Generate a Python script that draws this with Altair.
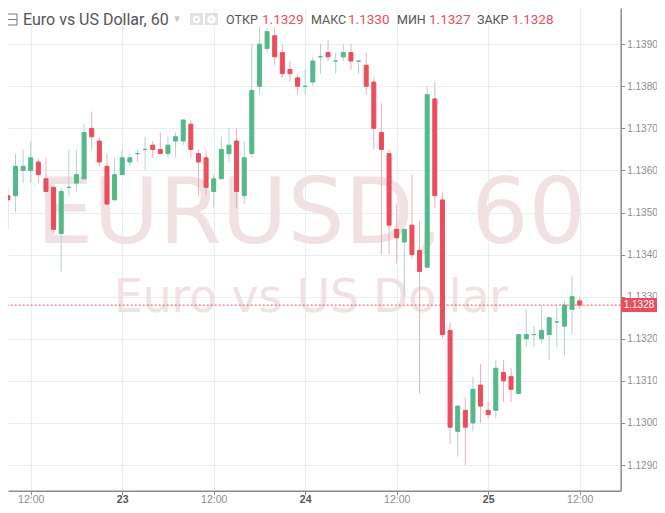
import json
import altair as alt
import pandas as pd

hours = list(range(-3, 73))
opens = [1.1354,1.1354,1.1360,1.1360,1.1362,1.1358,1.1356,1.1345,1.1356,1.1357,1.1358,1.1370,1.1367,1.1361,1.1353,1.1359,
 1.1362,1.1364,1.1365,1.1366,1.1365,1.1364,1.1367,1.1367,1.1371,1.1364,1.1363,1.1355,1.1358,1.1364,1.1367,1.1354,
 1.1364,1.1380,1.1389,1.1392,1.1388,1.1384,1.1382,1.1380,1.1381,1.1387,1.1388,1.1386,1.1387,1.1388,1.1386,1.1385,
 1.1381,1.1369,1.1364,1.1346,1.1343,1.1347,1.1341,1.1337,1.1377,1.1353,1.1322,1.1298,1.1303,1.1300,1.1309,1.1303,
 1.1303,1.1312,1.1311,1.1307,1.1320,1.1321,1.1320,1.1321,1.1324,1.1323,1.1327,1.1329]
highs = [1.1356,1.1364,1.1365,1.1367,1.1363,1.1363,1.1356,1.1356,1.1365,1.1365,1.1371,1.1374,1.1368,1.1364,1.1363,1.1365,
 1.1364,1.1365,1.1368,1.1367,1.1369,1.1368,1.1369,1.1372,1.1372,1.1365,1.1365,1.1359,1.1368,1.1370,1.1370,1.1367,
 1.1390,1.1394,1.1394,1.1394,1.1390,1.1386,1.1383,1.1384,1.1387,1.1390,1.1391,1.1388,1.1390,1.1390,1.1386,1.1388,
 1.1382,1.1376,1.1365,1.1352,1.1346,1.1359,1.1348,1.1380,1.1381,1.1355,1.1324,1.1304,1.1306,1.1311,1.1314,1.1305,
 1.1315,1.1315,1.1313,1.1321,1.1327,1.1323,1.1328,1.1325,1.1328,1.1329,1.1335,1.1330]
lows = [1.1346,1.1350,1.1357,1.1357,1.1357,1.1355,1.1345,1.1336,1.1354,1.1355,1.1358,1.1365,1.1361,1.1352,1.1353,1.1359,
 1.1361,1.1362,1.1360,1.1363,1.1364,1.1363,1.1363,1.1366,1.1363,1.1354,1.1354,1.1351,1.1358,1.1362,1.1351,1.1352,
 1.1363,1.1378,1.1388,1.1385,1.1382,1.1381,1.1378,1.1378,1.1380,1.1383,1.1386,1.1383,1.1386,1.1384,1.1383,1.1378,
 1.1365,1.1340,1.1340,1.1338,1.1330,1.1339,1.1307,1.1337,1.1351,1.1320,1.1295,1.1292,1.1290,1.1298,1.1300,1.1301,
 1.1301,1.1305,1.1305,1.1307,1.1318,1.1318,1.1319,1.1315,1.1318,1.1316,1.1321,1.1327]
closes = [1.1353,1.1361,1.1361,1.1363,1.1359,1.1355,1.1346,1.1355,1.1356,1.1359,1.1369,1.1368,1.1362,1.1352,1.1359,1.1363,
 1.1363,1.1364,1.1365,1.1365,1.1364,1.1366,1.1368,1.1372,1.1365,1.1362,1.1356,1.1358,1.1365,1.1366,1.1355,1.1363,
 1.1379,1.1390,1.1393,1.1387,1.1383,1.1383,1.1380,1.1380,1.1386,1.1387,1.1387,1.1386,1.1388,1.1386,1.1386,1.1380,
 1.1370,1.1365,1.1347,1.1344,1.1346,1.1340,1.1336,1.1378,1.1354,1.1321,1.1299,1.1304,1.1299,1.1308,1.1304,1.1302,
 1.1313,1.1310,1.1308,1.1321,1.1321,1.1321,1.1322,1.1325,1.1324,1.1328,1.1330,1.1328]

price_ticks = [1.1290,1.1300,1.1310,1.1320,1.1330,1.1340,1.1350,1.1360,1.1370,1.1380,1.1390]
time_ticks = [0,12,24,36,48,60,72]
time_labels = ["12:00","23","12:00","24","12:00","25","12:00"]
day_ticks = [12,36,60]
last_price = [1.1328]

GREEN, RED = "#53b987", "#eb4d5c"
WICK_G, WICK_R = "#b4d3d3", "#f0aeb6"
GRID = "#e8eff2"
WATER = "#f1e1e2"
AXIS = "#8c8c8c"
LABEL = "#8e8e8e"
DARK = "#555555"
FONT = "Roboto"

df = pd.DataFrame({"t": hours, "o": opens, "h": highs, "l": lows, "c": closes})

xs = alt.Scale(domain=[-2.98, 77.38], nice=False, zero=False, padding=0)
ys = alt.Scale(domain=[1.12839, 1.13986], nice=False, zero=False, padding=0)
W, H = 612.7, 482.7

labelexpr = f"{json.dumps(time_labels)}[indexof({json.dumps(time_ticks)}, datum.value)]"
is_day = f"indexof({json.dumps(day_ticks)}, datum.value) >= 0"

x_axis = alt.Axis(values=time_ticks, labelExpr=labelexpr, title=None, grid=True, gridColor=GRID, gridWidth=1.2,
                  domainColor=AXIS, domainWidth=1.5, tickColor=AXIS, tickSize=4, labelFont="Liberation Sans",
                  labelFontSize=10.5, labelPadding=0, labelColor=alt.expr(f"{is_day} ? '{DARK}' : '{LABEL}'"),
                  labelFontWeight=alt.expr(f"{is_day} ? 'bold' : 'normal'"))
y_axis = alt.Axis(values=price_ticks, format=".4f", orient="right", title=None, grid=True, gridColor=GRID, gridWidth=1.2,
                  domainColor=AXIS, domainWidth=1.5, tickColor=AXIS, tickSize=4, labelFont="Liberation Sans",
                  labelFontSize=10, labelColor=LABEL, labelPadding=2)

up = "datum.c >= datum.o"
wicks = alt.Chart(df).mark_rule(strokeWidth=1, clip=True).encode(
    x=alt.X("t:Q", scale=xs, axis=x_axis),
    y=alt.Y("l:Q", scale=ys, axis=y_axis),
    y2="h:Q",
    color=alt.condition(up, alt.value(WICK_G), alt.value(WICK_R)),
)
bodies = alt.Chart(df).mark_bar(size=4, strokeWidth=1, clip=True).encode(
    x=alt.X("t:Q", scale=xs, axis=x_axis),
    y=alt.Y("o:Q", scale=ys, axis=y_axis),
    y2="c:Q",
    color=alt.condition(up, alt.value(GREEN), alt.value(RED)),
    stroke=alt.condition(up, alt.value(GREEN), alt.value(RED)),
)
price_line = alt.Chart(pd.DataFrame({"p": last_price})).mark_rule(color=RED, strokeWidth=1, strokeDash=[2, 2]).encode(
    y=alt.Y("p:Q", scale=ys, axis=y_axis))


def txt(s, x, y, size, color, weight="normal", font=FONT, align="left"):
    return alt.Chart(pd.DataFrame({"s": [s]})).mark_text(
        align=align, baseline="middle", fontSize=size, color=color, fontWeight=weight, font=font
    ).encode(x=alt.value(x - 8), y=alt.value(y - 8), text="s:N")


def box(x0, x1, y0, y1, **kw):
    return alt.Chart(pd.DataFrame({"s": [0]})).mark_rect(**kw).encode(
        x=alt.value(x0 - 8), x2=alt.value(x1 - 8), y=alt.value(y0 - 8), y2=alt.value(y1 - 8))


water = [
    txt("EURUSD, 60", 311, 216, 90, WATER, font="DejaVu Sans", align="center"),
    txt("Euro vs US Dollar", 311, 298, 45.5, WATER, font="DejaVu Sans", align="center"),
]
eye = alt.Chart(pd.DataFrame({"s": ["a"]})).mark_point(
    shape="circle", filled=False, color="white", size=30, strokeWidth=2, opacity=1
).encode(x=alt.value(188.5), y=alt.value(11.5))
gear = alt.Chart(pd.DataFrame({"s": ["b"]})).mark_point(
    shape="circle", filled=False, color="white", size=30, strokeWidth=3, opacity=1
).encode(x=alt.value(203.5), y=alt.value(11.5))

header = [
    box(6, 17, 14, 25, fill="#ffffff", stroke="#777777", strokeWidth=1),
    box(6, 17, 19.5, 19.5, stroke="#777777", strokeWidth=1),
    txt("Euro vs US Dollar, 60", 23, 19.5, 16, DARK),
    txt("▾", 177, 19, 11, "#c4c4c4", font="DejaVu Sans", align="center"),
    box(190, 203, 13, 25, fill="#e2e2e2"),
    box(205, 218, 13, 25, fill="#e2e2e2"),
    eye, gear,
    txt("ОТКР", 226, 20, 12.5, DARK),
    txt("1.1329", 262, 20, 13.5, RED),
    txt("МАКС", 311, 20, 12.5, DARK),
    txt("1.1330", 348, 20, 13.5, RED),
    txt("МИН", 397, 20, 12.5, DARK),
    txt("1.1327", 429, 20, 13.5, RED),
    txt("ЗАКР", 477, 20, 12.5, DARK),
    txt("1.1328", 512, 20, 13.5, RED),
]
tag = [
    box(621, 657, 298, 312, fill=RED),
    txt("1.1328", 639, 305, 10, "white", font="Liberation Sans", align="center"),
]

chart = alt.layer(*water, wicks, bodies, price_line, *tag, *header).properties(
    width=W, height=H,
    padding={"left": 0, "top": 0, "right": 36.3, "bottom": 14.3},
    autosize=alt.AutoSizeParams(type="none"),
).configure_view(stroke=None)

chart.save("out.html", embed_options={"renderer": "svg", "actions": False})
